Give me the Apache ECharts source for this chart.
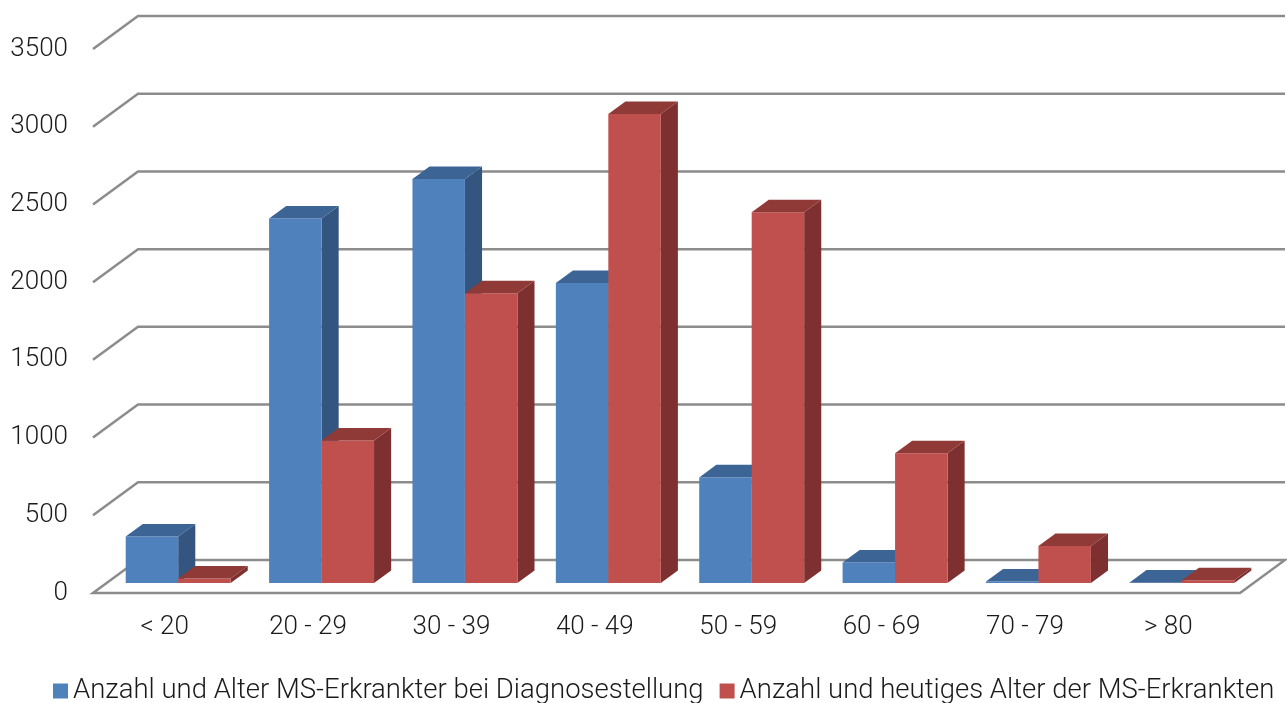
<!DOCTYPE html>
<html>
<head>
<meta charset="utf-8">
<script src="https://cdn.jsdelivr.net/npm/echarts@6/dist/echarts.min.js"></script>
<style>
html,body{margin:0;padding:0;background:#fff;}
#chart{width:1287px;height:703px;}
</style>
</head>
<body>
<div id="chart"></div>
<script>
const categories = ['< 20', '20 - 29', '30 - 39', '40 - 49', '50 - 59', '60 - 69', '70 - 79', '> 80'];
const seriesNames = ['Anzahl und Alter MS-Erkrankter bei Diagnosestellung', 'Anzahl und heutiges Alter der MS-Erkrankten'];
const diagnoseValues = [300, 2345, 2600, 1930, 680, 133, 10, 3];
const heutigValues = [30, 918, 1865, 3018, 2386, 835, 238, 18];
const yTicks = [0, 500, 1000, 1500, 2000, 2500, 3000, 3500];

const FONT = 'Roboto';
const DEPTH = [45, -33];      // full floor depth vector (px)
const BAR_Z0 = 0.30;          // bar front position in depth
const BAR_DZ = 0.38;          // bar depth
const BAR_W = 0.366;          // bar width as fraction of band
const GRID_COLOR = '#8c8c8c';

const palettes = [
  {front: '#4F81BD', top: '#3C6595', side: '#34557F'},
  {front: '#C0504D', top: '#903A38', side: '#7D302F'}
];

function barRenderer(sIdx) {
  const pal = palettes[sIdx];
  return function (params, api) {
    const c = api.value(0);
    const base = api.coord([c, 0]);
    const top = api.coord([c, api.value(1)]);
    const band = api.size([1, 0])[0];
    const w = band * BAR_W;
    const ox = DEPTH[0] * BAR_Z0, oy = DEPTH[1] * BAR_Z0;
    const dx = DEPTH[0] * BAR_DZ, dy = DEPTH[1] * BAR_DZ;
    const L = (sIdx === 0 ? base[0] - w : base[0]) + ox;
    const R = L + w;
    const yb = base[1] + oy;
    const yt = top[1] + oy;
    return {
      type: 'group',
      children: [
        {type: 'polygon', shape: {points: [[R, yt], [R + dx, yt + dy], [R + dx, yb + dy], [R, yb]]}, style: {fill: pal.side}},
        {type: 'rect', shape: {x: L, y: yt, width: w, height: yb - yt}, style: {fill: pal.front}},
        {type: 'polygon', shape: {points: [[L, yt], [R, yt], [R + dx, yt + dy], [L + dx, yt + dy]]}, style: {fill: pal.top}}
      ]
    };
  };
}

function gridRenderer(params, api) {
  const cs = params.coordSys;
  const left = cs.x, right = cs.x + cs.width;
  const y = api.coord([0, api.value(0)])[1];
  const dx = DEPTH[0], dy = DEPTH[1];
  const style = {stroke: GRID_COLOR, lineWidth: 2.5, fill: null};
  if (api.value(0) === 0) {
    return {type: 'polygon', shape: {points: [[left, y], [right, y], [right + dx, y + dy], [left + dx, y + dy]]}, style: style};
  }
  return {type: 'polyline', shape: {points: [[left, y], [left + dx, y + dy], [right + dx, y + dy]]}, style: style};
}

const chart = echarts.init(document.getElementById('chart'));
chart.setOption({
  backgroundColor: '#ffffff',
  animation: false,
  textStyle: {fontFamily: FONT},
  grid: {left: 93, right: 47, top: 49, bottom: 110},
  legend: {
    left: 48, top: 672,
    itemWidth: 15, itemHeight: 15, itemGap: 16,
    icon: 'rect',
    textStyle: {fontFamily: FONT, fontSize: 27.5, fontWeight: 300, color: '#1a1a1a'},
    data: seriesNames
  },
  xAxis: {
    type: 'category',
    data: categories,
    axisLine: {show: false},
    axisTick: {show: false},
    axisLabel: {fontFamily: FONT, fontSize: 26, fontWeight: 300, color: '#1a1a1a', margin: 21},
    splitLine: {show: false}
  },
  yAxis: {
    type: 'value',
    min: 0, max: 3500, interval: 500,
    axisLine: {show: false},
    axisTick: {show: false},
    splitLine: {show: false},
    axisLabel: {fontFamily: FONT, fontSize: 26, fontWeight: 300, color: '#1a1a1a', margin: 25, padding: [6, 0, 0, 0], formatter: v => String(v)}
  },
  series: [
    {
      type: 'custom', name: 'grid', silent: true,
      renderItem: gridRenderer,
      data: yTicks.map(v => [v]),
      encode: {y: 0},
      z: 1
    },
    {
      type: 'custom', name: seriesNames[0],
      itemStyle: {color: palettes[0].front},
      renderItem: barRenderer(0),
      data: diagnoseValues.map((v, i) => [i, v]),
      encode: {x: 0, y: 1},
      z: 2
    },
    {
      type: 'custom', name: seriesNames[1],
      itemStyle: {color: palettes[1].front},
      renderItem: barRenderer(1),
      data: heutigValues.map((v, i) => [i, v]),
      encode: {x: 0, y: 1},
      z: 3
    }
  ]
});
</script>
</body>
</html>
